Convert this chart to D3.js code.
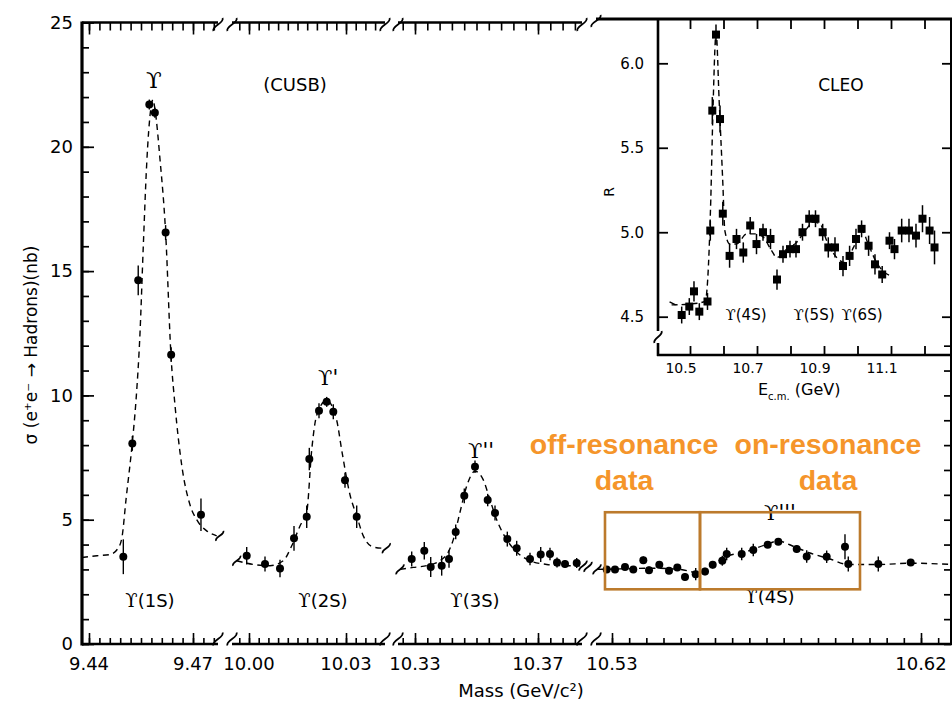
<!DOCTYPE html>
<html><head><meta charset="utf-8">
<script src="https://cdn.jsdelivr.net/npm/d3@7"></script>
<style>body{margin:0;background:#fff}svg{display:block}</style>
</head><body>
<svg id="c" width="952" height="703"></svg>
<script>
// ================= DATA =================
const yTickValues = [0, 5, 10, 15, 20, 25];
const yTickLabels = ["0", "5", "10", "15", "20", "25"];
const segTickValues = [[9.44, 9.47], [10.00, 10.03], [10.33, 10.37], [10.53, 10.62]];
const segTickLabels = [["9.44", "9.47"], ["10.00", "10.03"], ["10.33", "10.37"], ["10.53", "10.62"]];
const segTickStep = [0.003, 0.003, 0.004, 0.005];

// CUSB data: mass (GeV), sigma (nb), error (nb)
const seg1Mass = [9.4499, 9.4525, 9.4542, 9.4574, 9.4590, 9.4621, 9.4637, 9.4723];
const seg1Sigma = [3.51, 8.07, 14.63, 21.7, 21.37, 16.55, 11.64, 5.2];
const seg1Err = [0.7, 0.3, 0.6, 0.2, 0.2, 0.3, 0.3, 0.65];
const seg2Mass = [9.99929, 10.00495, 10.00959, 10.01392, 10.01785, 10.01865, 10.02165, 10.02403, 10.02607, 10.02969, 10.03331];
const seg2Sigma = [3.55, 3.22, 3.04, 4.25, 5.12, 7.44, 9.38, 9.74, 9.34, 6.59, 5.12];
const seg2Err = [0.35, 0.3, 0.35, 0.5, 0.45, 0.45, 0.3, 0.2, 0.3, 0.3, 0.45];
const seg3Mass = [10.32893, 10.33302, 10.33511, 10.33868, 10.34106, 10.34324, 10.34603, 10.34951, 10.35364, 10.35602, 10.36002, 10.36307, 10.3674, 10.37088, 10.3739, 10.37618, 10.37878, 10.38259];
const seg3Sigma = [3.42, 3.75, 3.1, 3.15, 3.42, 4.51, 5.96, 7.13, 5.79, 5.27, 4.22, 3.85, 3.42, 3.6, 3.62, 3.28, 3.22, 3.26];
const seg3Err = [0.3, 0.35, 0.4, 0.4, 0.35, 0.3, 0.3, 0.25, 0.25, 0.3, 0.3, 0.3, 0.25, 0.3, 0.25, 0.2, 0.15, 0.2];
const seg4Mass = [10.52846, 10.53087, 10.53379, 10.5362, 10.53912, 10.54078, 10.54378, 10.5466, 10.54902, 10.55126, 10.55438, 10.55709, 10.55933, 10.56213, 10.56341, 10.56778, 10.57115, 10.57535, 10.57844, 10.5838, 10.58671, 10.59253, 10.59786, 10.59882, 10.60756, 10.617];
const seg4Sigma = [3.0, 3.0, 3.1, 3.0, 3.37, 2.97, 3.19, 2.95, 3.08, 2.7, 2.81, 2.92, 3.19, 3.35, 3.62, 3.62, 3.78, 3.99, 4.11, 3.82, 3.52, 3.51, 3.91, 3.22, 3.22, 3.28];
const seg4Err = [0.12, 0.12, 0.12, 0.12, 0.15, 0.15, 0.15, 0.12, 0.12, 0.15, 0.25, 0.15, 0.15, 0.2, 0.25, 0.25, 0.25, 0.12, 0.12, 0.15, 0.25, 0.25, 0.5, 0.3, 0.3, 0.12];

// dashed fit curves
const fit1Mass = [9.43798, 9.44231, 9.44606, 9.44837, 9.44952, 9.45067, 9.45249, 9.45356, 9.45471, 9.45566, 9.45664, 9.4578, 9.45846, 9.45904, 9.46048, 9.46212, 9.46365, 9.46481, 9.46674, 9.46913, 9.47107, 9.47395, 9.47684];
const fit1Sigma = [3.48, 3.55, 3.6, 3.85, 4.3, 5.8, 8.1, 9.8, 12.5, 16.0, 19.3, 21.5, 21.9, 21.5, 19.5, 16.5, 11.6, 9.6, 7.2, 5.6, 5.0, 4.55, 4.35];
const fit2Mass = [9.9962, 10.00133, 10.00649, 10.01061, 10.01321, 10.01577, 10.01785, 10.01939, 10.02094, 10.02403, 10.02712, 10.02867, 10.03124, 10.03331, 10.03535, 10.03844, 10.04154];
const fit2Sigma = [3.35, 3.2, 3.15, 3.35, 3.95, 4.75, 5.3, 7.8, 9.2, 9.8, 9.0, 7.8, 6.0, 5.15, 4.35, 3.9, 3.85];
const fit3Mass = [10.32512, 10.32945, 10.3338, 10.33813, 10.34083, 10.34246, 10.34463, 10.34681, 10.34951, 10.35221, 10.35439, 10.35657, 10.35982, 10.36307, 10.3674, 10.37283, 10.37823, 10.38366];
const fit3Sigma = [3.0, 3.08, 3.15, 3.35, 3.7, 4.2, 5.3, 6.35, 6.95, 6.6, 5.8, 5.0, 4.2, 3.7, 3.35, 3.2, 3.15, 3.15];
const fit4Mass = [10.52563, 10.53233, 10.54107, 10.5498, 10.55563, 10.55913, 10.56291, 10.56874, 10.57456, 10.57835, 10.5833, 10.58767, 10.5935, 10.59874, 10.60806, 10.6168, 10.62903];
const fit4Sigma = [3.0, 3.02, 3.05, 3.0, 2.85, 3.17, 3.5, 3.7, 3.98, 4.14, 3.9, 3.66, 3.42, 3.2, 3.2, 3.25, 3.2];

// CLEO inset
const insetXTickValues = [10.5, 10.7, 10.9, 11.1];
const insetXTickLabels = ["10.5", "10.7", "10.9", "11.1"];
const insetXMinor = [10.5, 10.6, 10.7, 10.8, 10.9, 11.0, 11.1, 11.2];
const insetYTickValues = [4.5, 5.0, 5.5, 6.0];
const insetYTickLabels = ["4.5", "5.0", "5.5", "6.0"];
const cleoE = [10.4752, 10.4979, 10.5119, 10.5278, 10.5522, 10.5606, 10.5666, 10.5776, 10.5896, 10.5979, 10.6182, 10.6388, 10.6591, 10.6797, 10.6985, 10.7179, 10.7403, 10.7597, 10.7776, 10.7985, 10.8164, 10.8358, 10.8558, 10.8746, 10.8961, 10.9128, 10.9328, 10.9567, 10.9764, 10.9955, 11.0122, 11.0331, 11.0522, 11.0737, 11.0955, 11.1104, 11.1319, 11.1537, 11.1746, 11.1940, 11.2152, 11.2299];
const cleoR = [4.51, 4.56, 4.65, 4.53, 4.59, 5.01, 5.72, 6.17, 5.67, 5.11, 4.86, 4.96, 4.88, 5.04, 4.93, 5.00, 4.96, 4.72, 4.87, 4.90, 4.90, 5.00, 5.08, 5.08, 5.00, 4.91, 4.91, 4.80, 4.86, 4.96, 5.02, 4.92, 4.81, 4.75, 4.95, 4.90, 5.01, 5.01, 4.98, 5.08, 5.01, 4.91];
const cleoErr = [0.05, 0.05, 0.06, 0.05, 0.05, 0.06, 0.08, 0.06, 0.08, 0.07, 0.07, 0.06, 0.06, 0.05, 0.06, 0.05, 0.06, 0.06, 0.05, 0.05, 0.05, 0.05, 0.05, 0.05, 0.05, 0.06, 0.06, 0.06, 0.06, 0.06, 0.05, 0.06, 0.06, 0.05, 0.05, 0.06, 0.07, 0.07, 0.07, 0.08, 0.08, 0.1];
const cleoFitE = [10.445, 10.50, 10.545, 10.555, 10.562, 10.568, 10.578, 10.587, 10.598, 10.604, 10.619, 10.639, 10.669, 10.699, 10.719, 10.744, 10.759, 10.789, 10.818, 10.848, 10.868, 10.888, 10.908, 10.938, 10.963, 10.988, 11.013, 11.032, 11.057, 11.082, 11.102];
const cleoFitR = [4.57, 4.575, 4.59, 4.80, 5.19, 5.68, 6.18, 5.78, 5.29, 5.01, 4.93, 4.93, 4.99, 4.99, 4.97, 4.89, 4.85, 4.90, 4.94, 5.02, 5.06, 5.05, 4.95, 4.85, 4.82, 4.91, 5.01, 4.93, 4.82, 4.76, 4.74];

// ================= LAYOUT =================
const FONT = "DejaVu Sans, sans-serif";
const SERIF = "DejaVu Serif, serif";
const segLayout = [
  {rng: [89, 193], ext: [82, 218]},
  {rng: [249, 346], ext: [232, 385]},
  {rng: [415, 538], ext: [398, 582]},
  {rng: [612, 921], ext: [596, 952]}
];
const TOP = 22.5, BOT = 644, LEFT = 82, RIGHT = 951;
const svg = d3.select("#c");
const y = d3.scaleLinear([0, 25], [BOT, TOP]);
const xs = segLayout.map((s, i) => d3.scaleLinear(segTickValues[i], s.rng));

const ix = d3.scaleLinear([10.5, 10.7], [690, 757]);
const iy = d3.scaleLinear([4.5, 6.0], [316.7, 63.3]);
const ITOP = 19, IBOT = 355, ILEFT = 658;

function squiggle(g, x, yy, h, w) {
  w = w || 5;
  g.append("path")
    .attr("d", `M${x - w * 0.9},${yy + h / 2} C${x - w * 1.4},${yy + h / 8} ${x + w * 1.4},${yy - h / 8} ${x + w * 0.9},${yy - h / 2}`)
    .attr("fill", "none").attr("stroke", "#000").attr("stroke-width", 1.8);
}

const frame = svg.append("g");
// left axis
frame.append("line").attr("x1", LEFT).attr("x2", LEFT).attr("y1", TOP - 1).attr("y2", BOT + 1.5)
  .attr("stroke", "#000").attr("stroke-width", 3.2);

segLayout.forEach((s, i) => {
  const sc = xs[i];
  const dom0 = segTickValues[i][0], step = segTickStep[i];
  const lo = sc.invert(s.ext[0] + 1), hi = sc.invert(s.ext[1] - 1);
  const k0 = Math.ceil((lo - dom0) / step - 1e-9), k1 = Math.floor((hi - dom0) / step + 1e-9);
  const ticks = d3.range(k0, k1 + 1).map(k => +(dom0 + k * step).toFixed(4));
  // bottom line
  frame.append("line").attr("x1", s.ext[0]).attr("x2", s.ext[1]).attr("y1", BOT).attr("y2", BOT)
    .attr("stroke", "#000").attr("stroke-width", 2.4);
  const gb = frame.append("g").attr("transform", `translate(0,${BOT})`);
  gb.call(d3.axisTop(sc).tickValues(ticks).tickSize(6).tickFormat(""));
  gb.call(g => g.select(".domain").remove());
  gb.selectAll(".tick line").attr("stroke-width", 1.6);
  const gbm = frame.append("g").attr("transform", `translate(0,${BOT})`);
  gbm.call(d3.axisTop(sc).tickValues(segTickValues[i]).tickSize(11).tickFormat(""));
  gbm.call(g => g.select(".domain").remove());
  gbm.selectAll(".tick line").attr("stroke-width", 1.6);
  // labels
  segTickValues[i].forEach((v, j) => {
    frame.append("text").attr("x", sc(v)).attr("y", 670).attr("text-anchor", "middle")
      .attr("font-family", FONT).attr("font-size", 18).text(segTickLabels[i][j]);
  });
  // breaks
  if (i > 0) squiggle(frame, s.ext[0], BOT - 5, 13);
  if (i < 3) squiggle(frame, s.ext[1], BOT - 5, 13);
  // top
  if (i < 3) {
    frame.append("line").attr("x1", s.ext[0]).attr("x2", s.ext[1]).attr("y1", TOP).attr("y2", TOP)
      .attr("stroke", "#000").attr("stroke-width", 2.6);
    const gt = frame.append("g").attr("transform", `translate(0,${TOP})`);
    gt.call(d3.axisBottom(sc).tickValues(ticks).tickSize(8).tickFormat(""));
    gt.call(g => g.select(".domain").remove());
    gt.selectAll(".tick line").attr("stroke-width", 1.6);
    const gtm = frame.append("g").attr("transform", `translate(0,${TOP})`);
    gtm.call(d3.axisBottom(sc).tickValues(segTickValues[i]).tickSize(12).tickFormat(""));
    gtm.call(g => g.select(".domain").remove());
    gtm.selectAll(".tick line").attr("stroke-width", 1.6);
    if (i > 0) squiggle(frame, s.ext[0], TOP + 2, 13);
    squiggle(frame, s.ext[1], TOP + 2, 13);
  } else {
    squiggle(frame, s.ext[0], ITOP + 2, 12);
  }
});

// y axis ticks (inward)
const gyMinor = frame.append("g").attr("transform", `translate(${LEFT},0)`);
gyMinor.call(d3.axisRight(y).tickValues(d3.range(0, 26)).tickSize(7).tickFormat(""));
gyMinor.call(g => g.select(".domain").remove());
gyMinor.selectAll(".tick line").attr("stroke-width", 1.7);
const gyMajor = frame.append("g").attr("transform", `translate(${LEFT},0)`);
gyMajor.call(d3.axisRight(y).tickValues(yTickValues).tickSize(12).tickFormat(""));
gyMajor.call(g => g.select(".domain").remove());
gyMajor.selectAll(".tick line").attr("stroke-width", 1.7);
const gyLab = frame.append("g").attr("transform", `translate(${LEFT},0)`);
gyLab.call(d3.axisLeft(y).tickValues(yTickValues).tickSize(0).tickPadding(9).tickFormat((d, i) => yTickLabels[i]));
gyLab.call(g => g.select(".domain").remove());
gyLab.selectAll("text").attr("font-family", FONT).attr("font-size", 18).attr("fill", "#000");

// right axis of main plot (below inset)
frame.append("line").attr("x1", RIGHT).attr("x2", RIGHT).attr("y1", IBOT).attr("y2", BOT)
  .attr("stroke", "#000").attr("stroke-width", 2);
const gr = frame.append("g").attr("transform", `translate(${RIGHT},0)`);
gr.call(d3.axisLeft(y).tickValues(d3.range(0, 13)).tickSize(7).tickFormat(""));
gr.call(g => g.select(".domain").remove());
gr.selectAll(".tick line").attr("stroke-width", 1.7);

// axis titles
svg.append("text").attr("transform", "translate(37,345) rotate(-90)").attr("text-anchor", "middle")
  .attr("font-family", FONT).attr("font-size", 17).text("σ (e⁺e⁻ → Hadrons)(nb)");
svg.append("text").attr("x", 521).attr("y", 697).attr("text-anchor", "middle")
  .attr("font-family", FONT).attr("font-size", 18).text("Mass (GeV/c²)");

// ================= CURVES & POINTS =================
const segData = [
  {m: seg1Mass, s: seg1Sigma, e: seg1Err, fm: fit1Mass, fs: fit1Sigma},
  {m: seg2Mass, s: seg2Sigma, e: seg2Err, fm: fit2Mass, fs: fit2Sigma},
  {m: seg3Mass, s: seg3Sigma, e: seg3Err, fm: fit3Mass, fs: fit3Sigma},
  {m: seg4Mass, s: seg4Sigma, e: seg4Err, fm: fit4Mass, fs: fit4Sigma}
];
const plot = svg.append("g");
segData.forEach((d, i) => {
  const sc = xs[i];
  const pts = d.fm.map((m, j) => [m, d.fs[j]]);
  const line = d3.line().x(p => sc(p[0])).y(p => y(p[1])).curve(d3.curveMonotoneX);
  plot.append("path").attr("d", line(pts)).attr("fill", "none").attr("stroke", "#000")
    .attr("stroke-width", 1.4).attr("stroke-dasharray", "6,4.5");
  const first = pts[0], last = pts[pts.length - 1];
  if (i > 0) squiggle(plot, sc(first[0]), y(first[1]), 10, 4);
  if (i < 3) squiggle(plot, sc(last[0]) + 3, y(last[1]), 10, 4);
  const data = d.m.map((m, j) => ({m, s: d.s[j], e: d.e[j]}));
  plot.selectAll(null).data(data).enter().append("line")
    .attr("x1", p => sc(p.m)).attr("x2", p => sc(p.m))
    .attr("y1", p => y(p.s - p.e)).attr("y2", p => y(p.s + p.e))
    .attr("stroke", "#000").attr("stroke-width", 1.4);
  plot.selectAll(null).data(data).enter().append("circle")
    .attr("cx", p => sc(p.m)).attr("cy", p => y(p.s)).attr("r", 4).attr("fill", "#000");
});
// extra break mark between seg3 and seg4 curves
squiggle(plot, 588, y(3.1), 10, 4);

// peak / state labels
function upsLabel(x, yy, suffix, size, anchor) {
  const t = svg.append("text").attr("x", x).attr("y", yy).attr("text-anchor", anchor || "middle")
    .attr("font-family", FONT).attr("font-size", size);
  t.append("tspan").attr("font-family", SERIF).text("ϒ");
  if (suffix) t.append("tspan").text(suffix);
}
upsLabel(xs[0](9.45875), y(22.37), "", 23);
upsLabel(xs[1](10.02134), y(10.42), "'", 21, "start");
upsLabel(xs[2](10.34724), y(7.48), "''", 21, "start");
upsLabel(xs[3](10.57427), y(4.99), "'''", 21, "start");
upsLabel(xs[0](9.4576), y(1.49), "(1S)", 18);
upsLabel(xs[1](10.02289), y(1.49), "(2S)", 18);
upsLabel(xs[2](10.34951), y(1.49), "(3S)", 18);
upsLabel(xs[3](10.57602), y(1.65), "(4S)", 18);
svg.append("text").attr("x", xs[1](10.01423)).attr("y", y(22.24)).attr("text-anchor", "middle")
  .attr("font-family", FONT).attr("font-size", 18).text("(CUSB)");

// ================= INSET (CLEO) =================
const ins = svg.append("g");
ins.append("line").attr("x1", 596).attr("x2", 952).attr("y1", ITOP).attr("y2", ITOP)
  .attr("stroke", "#000").attr("stroke-width", 2.8);
ins.append("line").attr("x1", ILEFT).attr("x2", ILEFT).attr("y1", ITOP).attr("y2", 331)
  .attr("stroke", "#000").attr("stroke-width", 2.6);
ins.append("line").attr("x1", ILEFT).attr("x2", ILEFT).attr("y1", 343).attr("y2", IBOT + 1)
  .attr("stroke", "#000").attr("stroke-width", 2.6);
squiggle(ins, ILEFT, 337, 12, 4);
ins.append("line").attr("x1", ILEFT - 1).attr("x2", 952).attr("y1", IBOT).attr("y2", IBOT)
  .attr("stroke", "#000").attr("stroke-width", 2.6);
ins.append("line").attr("x1", RIGHT).attr("x2", RIGHT).attr("y1", ITOP).attr("y2", IBOT)
  .attr("stroke", "#000").attr("stroke-width", 2);

const ib = ins.append("g").attr("transform", `translate(0,${IBOT})`);
ib.call(d3.axisTop(ix).tickValues(insetXMinor).tickSize(9).tickFormat(""));
ib.call(g => g.select(".domain").remove());
ib.selectAll(".tick line").attr("stroke-width", 1.8);
const it = ins.append("g").attr("transform", `translate(0,${ITOP})`);
it.call(d3.axisBottom(ix).tickValues(insetXMinor).tickSize(10).tickFormat(""));
it.call(g => g.select(".domain").remove());
it.selectAll(".tick line").attr("stroke-width", 1.8);
const il = ins.append("g").attr("transform", `translate(${ILEFT},0)`);
il.call(d3.axisRight(iy).tickValues(insetYTickValues).tickSize(10).tickFormat(""));
il.call(g => g.select(".domain").remove());
il.selectAll(".tick line").attr("stroke-width", 1.8);
const ir = ins.append("g").attr("transform", `translate(${RIGHT},0)`);
ir.call(d3.axisLeft(iy).tickValues(insetYTickValues).tickSize(9).tickFormat(""));
ir.call(g => g.select(".domain").remove());
ir.selectAll(".tick line").attr("stroke-width", 1.8);
const ilab = ins.append("g").attr("transform", `translate(${ILEFT},0)`);
ilab.call(d3.axisLeft(iy).tickValues(insetYTickValues).tickSize(0).tickPadding(14).tickFormat((d, i) => insetYTickLabels[i]));
ilab.call(g => g.select(".domain").remove());
ilab.selectAll("text").attr("font-family", FONT).attr("font-size", 15).attr("fill", "#000");
insetXTickValues.forEach((v, j) => {
  ins.append("text").attr("x", ix(v) - 9).attr("y", 373).attr("text-anchor", "middle")
    .attr("font-family", FONT).attr("font-size", 14).text(insetXTickLabels[j]);
});
ins.append("text").attr("transform", "translate(614,192) rotate(-90)").attr("text-anchor", "middle")
  .attr("font-family", FONT).attr("font-size", 14).text("R");
const et = ins.append("text").attr("x", 758).attr("y", 395).attr("font-family", FONT).attr("font-size", 16);
et.append("tspan").text("E");
et.append("tspan").attr("font-size", 10).attr("dy", 5).text("c.m.");
et.append("tspan").attr("font-size", 16).attr("dy", -5).text(" (GeV)");

// inset fit
const ifit = cleoFitE.map((e, j) => [e, cleoFitR[j]]);
ins.append("path").attr("d", d3.line().x(p => ix(p[0])).y(p => iy(p[1])).curve(d3.curveMonotoneX)(ifit))
  .attr("fill", "none").attr("stroke", "#000").attr("stroke-width", 1.4).attr("stroke-dasharray", "6,4");
ins.append("path").attr("d", `M${ix(cleoFitE[0]) - 2},${iy(cleoFitR[0]) - 3} L${ix(cleoFitE[0]) + 4},${iy(cleoFitR[0])}`)
  .attr("stroke", "#000").attr("stroke-width", 1.4);
const cleo = cleoE.map((e, j) => ({e, r: cleoR[j], err: cleoErr[j]}));
ins.selectAll(null).data(cleo).enter().append("line")
  .attr("x1", p => ix(p.e)).attr("x2", p => ix(p.e))
  .attr("y1", p => iy(p.r - p.err)).attr("y2", p => iy(p.r + p.err))
  .attr("stroke", "#000").attr("stroke-width", 1.5);
ins.selectAll(null).data(cleo).enter().append("rect")
  .attr("x", p => ix(p.e) - 4).attr("y", p => iy(p.r) - 4).attr("width", 8).attr("height", 8).attr("fill", "#000");
ins.append("text").attr("x", ix(10.9507)).attr("y", iy(5.836)).attr("text-anchor", "middle")
  .attr("font-family", FONT).attr("font-size", 17).text("CLEO");
function insLabel(e, suffix) {
  const t = ins.append("text").attr("x", ix(e)).attr("y", iy(4.48)).attr("text-anchor", "middle")
    .attr("font-family", FONT).attr("font-size", 15);
  t.append("tspan").attr("font-family", SERIF).text("ϒ");
  t.append("tspan").text(suffix);
}
insLabel(10.6672, "(4S)");
insLabel(10.8701, "(5S)");
insLabel(11.0134, "(6S)");

// ================= ANNOTATIONS =================
const annBoxes = [[10.52796, 10.55563], [10.55563, 10.60223]];
const annY = [2.2, 5.3];
const ann = svg.append("g");
annBoxes.forEach(b => {
  ann.append("rect").attr("x", xs[3](b[0])).attr("y", y(annY[1]))
    .attr("width", xs[3](b[1]) - xs[3](b[0])).attr("height", y(annY[0]) - y(annY[1]))
    .attr("fill", "none").attr("stroke", "#BC7A2C").attr("stroke-width", 2.6);
});
const annText = [
  {m: 10.5335, lines: ["off-resonance", "data"]},
  {m: 10.5929, lines: ["on-resonance", "data"]}
];
annText.forEach(a => {
  a.lines.forEach((l, k) => {
    ann.append("text").attr("x", xs[3](a.m)).attr("y", k === 0 ? y(7.66) : y(6.2))
      .attr("text-anchor", "middle").attr("font-family", "Liberation Sans, Arial, sans-serif")
      .attr("font-weight", "bold").attr("font-size", 28.5).attr("fill", "#F5952A").text(l);
  });
});
</script>
</body></html>
